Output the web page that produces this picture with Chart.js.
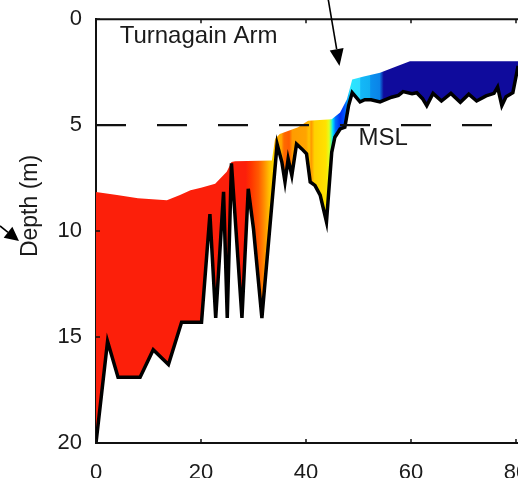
<!DOCTYPE html>
<html>
<head>
<meta charset="utf-8">
<script src="https://cdn.jsdelivr.net/npm/chart.js@4.4.1/dist/chart.umd.min.js"></script>
<style>
  html, body { margin: 0; padding: 0; overflow: hidden; background: #fff; }
  #wrap { position: relative; width: 580px; height: 478px; }
</style>
</head>
<body>
<div id="wrap"><canvas id="profile"></canvas></div>
<script>
// Water surface along the channel: distance and depth below datum (m)
const surfaceX = [0, 4, 8, 13.5, 16, 18, 20, 22.7, 24.9, 25.8, 26.5, 33.5, 34.1, 35, 38.5, 40.4, 44.9, 46.5, 47.8, 48.8, 51, 54.1, 57.3, 59.8, 80.4];
const surfaceDepth = [8.15, 8.3, 8.45, 8.55, 8.3, 8.07, 7.95, 7.76, 7.2, 6.74, 6.7, 6.67, 5.65, 5.42, 5.1, 4.79, 4.72, 4.4, 3.78, 2.84, 2.7, 2.53, 2.22, 1.98, 1.98];

// Channel bed along the same transect
const bedX = [0, 2.2, 4.2, 8.4, 10.9, 13.8, 16.3, 20.1, 21.7, 22.8, 24.3, 25.0, 25.8, 27.8, 29.0, 30.0, 31.6, 34.5,
  35.4, 36.0, 36.6, 37.3, 38.2, 39.2, 40.1, 40.8, 41.7, 42.7, 43.9, 44.9, 45.5, 46.5, 47.4, 48.1, 48.8,
  50.3, 51.2, 52.4, 54.1, 56.3, 57.6, 58.5, 60.2, 61.1, 62.2, 63.0, 64.2, 65.8, 67.6, 69.4, 71.0, 72.5,
  74.3, 75.8, 76.5, 77.3, 78.1, 79.4, 80.4];
const bedDepth = [20, 15.2, 16.9, 16.9, 15.6, 16.3, 14.3, 14.3, 9.2, 14.1, 8.15, 14.1, 6.8, 14.1, 8.0, 9.9, 14.1, 5.9,
  6.74, 7.68, 6.59, 7.37, 5.89, 6.12, 6.35, 7.68, 7.84, 8.3, 9.56, 6.28, 5.57, 5.18, 5.1, 4.09, 3.47,
  3.9, 3.8, 3.8, 3.9, 3.68, 3.6, 3.42, 3.52, 3.47, 3.75, 4.08, 3.5, 3.86, 3.5, 3.92, 3.54, 3.86,
  3.62, 3.5, 3.2, 4.08, 3.66, 3.47, 2.2];

// Mean sea level reference
const mslDepth = 5;

// Axis tick labels
const xTickValues = [0, 20, 40, 60, 80];
const yTickValues = [0, 5, 10, 15, 20];

// Colour of the water column along the transect (distance, colour)
const columnColors = [
  [0, '#fc1f0a'], [28.5, '#fc1f0a'], [29.5, '#ff3400'], [31, '#ff5c00'], [32, '#ff8c00'],
  [33, '#ffc000'], [33.9, '#ffdc00'], [34.0, '#ffb400'], [35.3, '#ffa800'], [35.8, '#ff6a00'],
  [36.8, '#ff5c00'], [37.4, '#ff9c00'], [40, '#ffa400'], [40.6, '#ffc400'], [41.0, '#ff9800'],
  [41.6, '#ffd000'], [43.8, '#ffe200'], [44.4, '#e0ff20'], [44.8, '#60ff90'], [45.1, '#00e0ff'],
  [45.6, '#0070ff'], [46.5, '#0030f0'], [47.3, '#0050ff'], [47.9, '#00a0ff'], [48.4, '#28e8ff'],
  [50.3, '#30dcff'], [50.4, '#14b8f8'], [52.2, '#12b0f2'], [52.3, '#0a90ee'], [54.0, '#0a84e8'],
  [54.8, '#0f0b9c'], [90, '#0f0b9c']
];

const FONT = "'Liberation Sans', Arial, Helvetica, sans-serif";
const INK = '#1b1b1b';

function columnFill(context) {
  const chart = context.chart;
  if (!chart.chartArea) return columnColors[0][1];
  const xs = chart.scales.x;
  const p0 = xs.getPixelForValue(xs.min);
  const p1 = xs.getPixelForValue(xs.max);
  const g = chart.ctx.createLinearGradient(p0, 0, p1, 0);
  for (const [v, c] of columnColors) {
    const t = (xs.getPixelForValue(v) - p0) / (p1 - p0);
    g.addColorStop(Math.min(1, Math.max(0, t)), c);
  }
  return g;
}

function drawArrow(ctx, x0, y0, x1, y1, headLen, headHalf) {
  const a = Math.atan2(y1 - y0, x1 - x0);
  const bx = x1 - headLen * Math.cos(a), by = y1 - headLen * Math.sin(a);
  ctx.beginPath();
  ctx.moveTo(x0, y0);
  ctx.lineTo(bx, by);
  ctx.stroke();
  ctx.beginPath();
  ctx.moveTo(x1, y1);
  ctx.lineTo(bx + headHalf * Math.sin(a), by - headHalf * Math.cos(a));
  ctx.lineTo(bx - headHalf * Math.sin(a), by + headHalf * Math.cos(a));
  ctx.closePath();
  ctx.fill();
}

// Box top edge, inward tick marks, labels and arrows
const decorations = {
  id: 'decorations',
  afterDraw(chart) {
    const { ctx, chartArea: a, scales: { x, y } } = chart;
    ctx.save();
    ctx.strokeStyle = '#111';
    ctx.fillStyle = '#111';
    ctx.lineWidth = 2;
    ctx.beginPath();
    ctx.moveTo(a.left - 1, a.top);
    ctx.lineTo(chart.width, a.top);
    ctx.stroke();

    const tl = 4;
    ctx.lineWidth = 1.5;
    ctx.beginPath();
    for (const v of xTickValues) {
      const px = x.getPixelForValue(v);
      ctx.moveTo(px, a.bottom); ctx.lineTo(px, a.bottom - tl);
      ctx.moveTo(px, a.top); ctx.lineTo(px, a.top + tl);
    }
    for (const v of yTickValues) {
      const py = y.getPixelForValue(v);
      ctx.moveTo(a.left, py); ctx.lineTo(a.left + tl, py);
    }
    ctx.stroke();

    ctx.fillStyle = INK;
    ctx.font = '24px ' + FONT;
    ctx.textBaseline = 'alphabetic';
    ctx.textAlign = 'left';
    ctx.fillText('Turnagain Arm', x.getPixelForValue(4.5), y.getPixelForValue(1.1));
    ctx.fillText('MSL', x.getPixelForValue(50.0), y.getPixelForValue(5.95));

    ctx.save();
    ctx.translate(31, 206);
    ctx.rotate(-Math.PI / 2);
    ctx.textAlign = 'center';
    ctx.textBaseline = 'middle';
    ctx.font = '23px ' + FONT;
    ctx.fillText('Depth (m)', 0, 0);
    ctx.restore();

    ctx.fillStyle = '#000';
    ctx.strokeStyle = '#000';
    ctx.lineWidth = 1.6;
    drawArrow(ctx, 328, -2, 339.5, 66, 17, 7);
    drawArrow(ctx, 0, 226, 19, 241, 14, 7);
    ctx.restore();
  }
};

const toPoints = (xs, ys) => xs.map((v, i) => ({ x: v, y: ys[i] }));

new Chart(document.getElementById('profile'), {
  type: 'line',
  data: {
    datasets: [
      {
        label: 'Water column',
        data: toPoints(surfaceX, surfaceDepth),
        borderWidth: 0,
        borderColor: 'rgba(0,0,0,0)',
        backgroundColor: columnFill,
        fill: '+1',
        pointRadius: 0,
        order: 3
      },
      {
        label: 'Bed',
        data: toPoints(bedX, bedDepth),
        borderColor: '#000',
        borderWidth: 3.5,
        fill: false,
        pointRadius: 0,
        order: 2
      },
      {
        label: 'MSL',
        data: [{ x: 0, y: mslDepth }, { x: 90, y: mslDepth }],
        borderColor: '#111',
        borderWidth: 2.4,
        borderDash: [30, 31],
        fill: false,
        pointRadius: 0,
        order: 1
      }
    ]
  },
  options: {
    responsive: true,
    maintainAspectRatio: false,
    animation: false,
    events: [],
    layout: { padding: { top: 16, right: 11.5, bottom: 0, left: 0 } },
    elements: { line: { tension: 0 } },
    plugins: { legend: { display: false }, tooltip: { enabled: false } },
    scales: {
      x: {
        type: 'linear',
        min: 0,
        max: 90,
        afterBuildTicks: s => { s.ticks = xTickValues.map(v => ({ value: v })); },
        afterFit: s => { s.height = 35; },
        grid: { display: false },
        border: { display: true, color: '#111', width: 2 },
        ticks: { color: INK, font: { family: FONT, size: 22 }, padding: 9, maxRotation: 0 }
      },
      y: {
        type: 'linear',
        reverse: true,
        min: 0,
        max: 20,
        afterBuildTicks: s => { s.ticks = yTickValues.map(v => ({ value: v })); },
        afterFit: s => { s.width = 96; },
        grid: { display: false },
        border: { display: true, color: '#111', width: 2 },
        ticks: { color: INK, font: { family: FONT, size: 22 }, padding: 6 }
      }
    }
  },
  plugins: [decorations]
});
</script>
</body>
</html>
